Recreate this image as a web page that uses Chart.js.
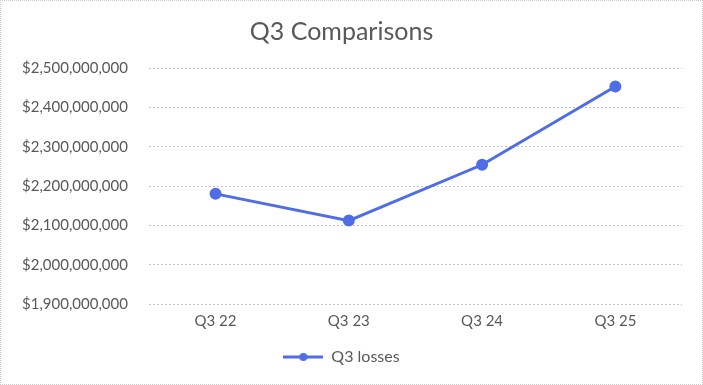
<!DOCTYPE html>
<html>
<head>
<meta charset="utf-8">
<script src="https://cdn.jsdelivr.net/npm/chart.js@4"></script>
<style>
  body { margin: 0; background: #fff; }
  #wrap { width: 703px; height: 385px; box-sizing: border-box; border: 1px dotted #c8c8c8; position: relative; }
</style>
</head>
<body>
<div id="wrap"><canvas id="myChart"></canvas></div>
<script>
// data
const quarters = ['Q3 22', 'Q3 23', 'Q3 24', 'Q3 25'];
const q3Losses = [2180000000, 2112000000, 2254000000, 2453000000];
const yMin = 1900000000;
const yMax = 2500000000;
const yStep = 100000000;

const lineColor = '#4F6DE6';
const textColor = '#595959';

// legend marker: short line with a dot in the middle
const marker = document.createElement('canvas');
marker.width = 40; marker.height = 10;
const mc = marker.getContext('2d');
mc.strokeStyle = lineColor; mc.lineWidth = 3;
mc.beginPath(); mc.moveTo(0, 5); mc.lineTo(40, 5); mc.stroke();
mc.fillStyle = lineColor;
mc.beginPath(); mc.arc(20, 5, 4, 0, Math.PI * 2); mc.fill();

const ctx = document.getElementById('myChart');
new Chart(ctx, {
  type: 'line',
  data: {
    labels: quarters,
    datasets: [{
      label: 'Q3 losses',
      data: q3Losses,
      borderColor: lineColor,
      backgroundColor: lineColor,
      borderWidth: 3,
      pointRadius: 4.5,
      pointStyle: 'circle',
      pointBackgroundColor: lineColor,
      pointBorderColor: lineColor,
      tension: 0
    }]
  },
  options: {
    responsive: true,
    maintainAspectRatio: false,
    animation: false,
    layout: { padding: { left: 0, right: 20, top: 8, bottom: 9 } },
    plugins: {
      title: {
        display: true,
        text: 'Q3 Comparisons',
        color: textColor,
        font: { family: 'Lato', size: 25, weight: 'normal' },
        padding: { top: 8, bottom: 21 }
      },
      legend: {
        position: 'bottom',
        labels: {
          usePointStyle: true,
          pointStyleWidth: 40,
          color: textColor,
          font: { family: 'Lato', size: 16 },
          padding: 19,
          generateLabels: (chart) => [{
            text: 'Q3 losses',
            pointStyle: marker,
            fontColor: textColor,
            datasetIndex: 0,
            hidden: false
          }]
        }
      },
      tooltip: { enabled: false }
    },
    scales: {
      x: {
        offset: true,
        grid: { display: false },
        border: { display: false },
        ticks: { color: textColor, font: { family: 'Lato', size: 15 }, padding: 0 }
      },
      y: {
        min: yMin,
        max: yMax,
        border: { display: false, dash: [2, 2] },
        grid: { color: '#c4c4c4', lineWidth: 1, drawTicks: false },
        ticks: {
          stepSize: yStep,
          color: textColor,
          font: { family: 'Lato', size: 15 },
          padding: 21,
          callback: (v) => '$' + v.toLocaleString('en-US')
        }
      }
    }
  }
});
</script>
</body>
</html>
